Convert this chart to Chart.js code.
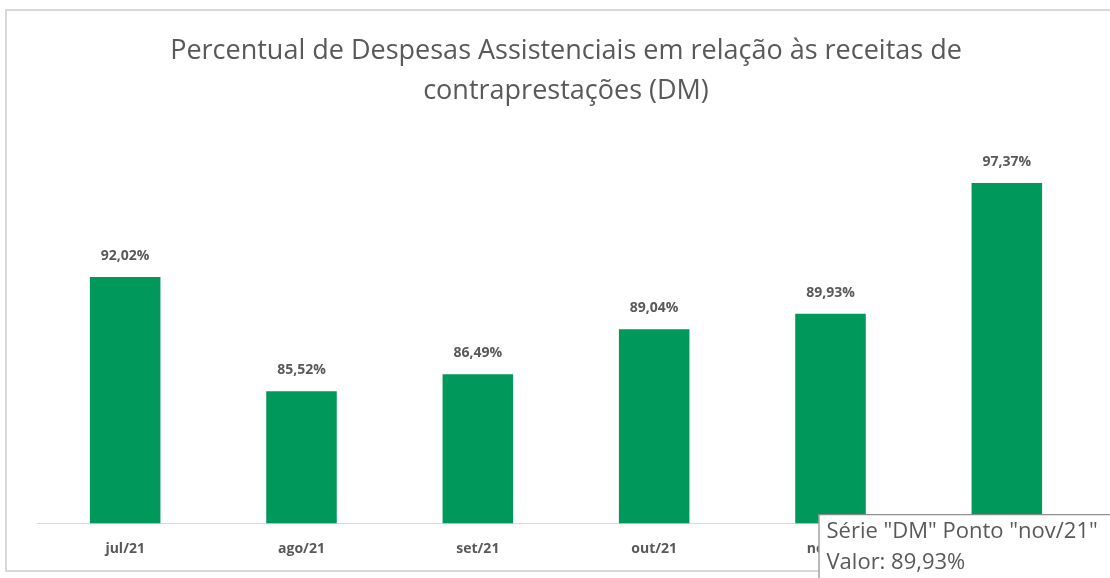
<!DOCTYPE html>
<html>
<head>
<meta charset="utf-8">
<script src="https://cdn.jsdelivr.net/npm/chart.js@4"></script>
<style>
    html, body { margin: 0; padding: 0; background: #ffffff; overflow: hidden; }
    #wrap { width: 1110px; height: 578px; position: relative; }
</style>
</head>
<body>
<div id="wrap"><canvas id="dmChart"></canvas></div>
<script>
const months = ["jul/21", "ago/21", "set/21", "out/21", "nov/21", "dez/21"];
const dmValues = [92.02, 85.52, 86.49, 89.04, 89.93, 97.37];
const titleLines = ["Percentual de Despesas Assistenciais em relação às receitas de", "contraprestações (DM)"];
const hoverIndex = 4;

const textColor = "#595959";
const barColor = "#00985B";
const fontName = "'Open Sans', 'Liberation Sans', sans-serif";

function formatPct(v) {
    return v.toFixed(2).replace(".", ",") + "%";
}

const framePlugin = {
    id: "frame",
    beforeDraw(chart) {
        const ctx = chart.ctx;
        ctx.save();
        ctx.strokeStyle = "#d9d9d9";
        ctx.lineWidth = 2;
        ctx.strokeRect(6, 10, 1200, 561);
        ctx.restore();
    }
};

const valueLabels = {
    id: "valueLabels",
    afterDatasetsDraw(chart) {
        const ctx = chart.ctx;
        const meta = chart.getDatasetMeta(0);
        ctx.save();
        ctx.font = "bold 14px " + fontName;
        ctx.fillStyle = textColor;
        ctx.textAlign = "center";
        ctx.textBaseline = "middle";
        meta.data.forEach((bar, i) => {
            ctx.fillText(formatPct(dmValues[i]), bar.x, bar.y - 21);
        });
        ctx.restore();
    }
};

const hoverBox = {
    id: "hoverBox",
    afterDraw(chart) {
        const ctx = chart.ctx;
        const bar = chart.getDatasetMeta(0).data[hoverIndex];
        const left = bar.x - 12;
        const top = chart.chartArea.bottom - 9;
        ctx.save();
        ctx.fillStyle = "#ffffff";
        ctx.strokeStyle = "#767676";
        ctx.lineWidth = 1;
        ctx.fillRect(left, top, 400, 80);
        ctx.strokeRect(left + 0.5, top + 0.5, 400, 80);
        ctx.font = "22px " + fontName;
        ctx.fillStyle = textColor;
        ctx.textAlign = "left";
        ctx.textBaseline = "middle";
        ctx.fillText('Série "DM" Ponto "' + months[hoverIndex] + '"', left + 8, top + 18);
        ctx.fillText("Valor: " + formatPct(dmValues[hoverIndex]), left + 8, top + 49);
        ctx.restore();
    }
};

new Chart(document.getElementById("dmChart"), {
    type: "bar",
    data: {
        labels: months,
        datasets: [{
            label: "DM",
            data: dmValues,
            backgroundColor: barColor,
            barPercentage: 0.4,
            categoryPercentage: 1
        }]
    },
    options: {
        responsive: true,
        maintainAspectRatio: false,
        animation: false,
        layout: {
            padding: { top: 31, left: 37, right: 15, bottom: 4 }
        },
        plugins: {
            legend: { display: false },
            tooltip: { enabled: false },
            title: {
                display: true,
                text: titleLines,
                color: textColor,
                font: { family: fontName, size: 27, weight: "normal", lineHeight: 1.48 },
                padding: { top: 0, bottom: 26 }
            }
        },
        scales: {
            x: {
                grid: { display: false, drawTicks: false },
                border: { display: true, color: "#d9d9d9", width: 1 },
                ticks: {
                    color: textColor,
                    padding: 17,
                    font: { family: fontName, size: 14, weight: "bold" }
                }
            },
            y: {
                display: false,
                min: 78,
                max: 100
            }
        }
    },
    plugins: [framePlugin, valueLabels, hoverBox]
});
</script>
</body>
</html>
